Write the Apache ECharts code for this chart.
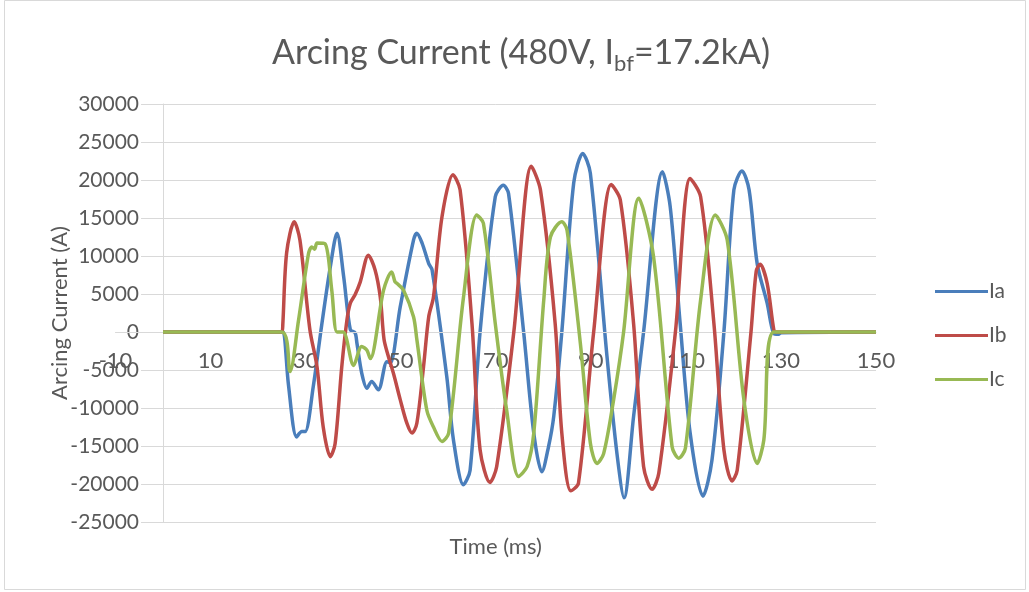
<!DOCTYPE html>
<html>
<head>
<meta charset="utf-8">
<title>Arcing Current</title>
<script src="https://cdn.jsdelivr.net/npm/echarts@6/dist/echarts.min.js"></script>
<style>
  html, body { margin: 0; padding: 0; background: #fff; }
  #chart { width: 1029px; height: 592px; }
</style>
</head>
<body>
<div id="chart"></div>
<script>
// Phase currents during the arc event, [time (ms), current (A)]
const ia = [
  [0, 0], [25, 0], [25.3, 0], [26.4, -7000], [28.1, -13800], [29.2, -13100], [29.9, -13100],
  [31.6, -7200], [33.4, 1000], [35.2, 8600], [36.6, 13000], [38.0, 7300], [39.4, 300],
  [40.4, -100], [40.8, -1500], [41.8, -5400], [42.9, -7400], [43.9, -6500], [45.3, -7600],
  [47.1, -3900], [47.8, -4100], [49.9, 3300], [52.7, 12100], [53.4, 13000], [54.5, 11700],
  [55.9, 9000], [56.6, 8200], [59.7, -5900], [61.1, -14200], [63.2, -20100], [64.6, -18200],
  [66.7, 0], [69.9, 17800], [71.6, 19300], [72.7, 18200], [75.9, -200], [78.0, -13300],
  [79.7, -18400], [81.1, -15100], [82.2, -11100], [83.9, 0], [86.4, 19600], [88.3, 23500],
  [89.9, 20900], [93.4, -3200], [95.5, -16000], [97.0, -21800], [99.0, -11100], [101.1, 0],
  [105.1, 21100], [106.7, 16500], [108.8, 1100], [110.9, -13300], [113.6, -21600],
  [115.5, -16800], [118.0, 0], [120.1, 18700], [121.8, 21200], [123.3, 18700], [125.0, 9000],
  [127.1, 3800], [128.5, -200], [129.5, -300], [130, -100], [150, 0]
];
const ib = [
  [0, 0], [25, 0], [25.2, 1000], [26.0, 10400], [27.6, 14500], [28.8, 12100], [30.9, 300],
  [32.4, -4600], [33.7, -12500], [35.2, -16400], [36.2, -14700], [37.6, -4600], [38.7, 1600],
  [39.4, 3800], [40.4, 4900], [41.5, 6600], [43.2, 10100], [44.6, 8200], [45.7, 4600],
  [46.5, -1000], [47.4, -3200], [48.5, -5500], [49.9, -8900], [51.3, -12000], [52.4, -13300],
  [53.4, -12000], [54.8, -4600], [55.9, 2000], [56.9, 4600], [58.7, 15200], [61.0, 20700],
  [62.5, 18700], [65.0, 1100], [66.7, -15500], [68.8, -19800], [70.2, -17700], [73.8, 0],
  [77.5, 21800], [79.4, 18700], [82.5, 1100], [83.9, -13300], [85.8, -20900], [87.4, -19900],
  [90.6, 0], [94.3, 19400], [96.2, 17400], [99.0, 1100], [101.1, -17700], [102.9, -20700],
  [104.3, -18600], [107.8, 0], [110.9, 20200], [113.1, 17800], [115.9, 1100], [118.0, -15500],
  [119.7, -19600], [120.8, -18200], [123.7, 0], [124.8, 8000], [125.6, 8900], [127.1, 6400],
  [128.5, 300], [129, 0], [150, 0]
];
const ic = [
  [0, 0], [25, 0], [26.7, -5200], [28.5, 1500], [30.6, 10300], [31.3, 11200], [31.9, 10900],
  [32.4, 11700], [34.1, 11600], [35.5, 5500], [36.6, 0], [37.9, 0], [40.1, -4400],
  [41.8, -1900], [42.9, -2400], [43.6, -3500], [46.4, 5500], [48.1, 7900], [48.8, 6600],
  [49.2, 6400], [50.6, 5500], [52.7, 2000], [53.4, -1000], [55.5, -10300], [56.9, -12500],
  [58.7, -14400], [60.1, -13300], [63.2, 4500], [66.0, 15400], [67.4, 14300], [69.9, 1100],
  [72.3, -10300], [74.8, -19000], [76.6, -17700], [78.0, -13300], [80.1, 4200], [81.5, 12500],
  [83.9, 14500], [85.0, 13400], [87.8, -1500], [89.9, -14600], [91.3, -17300], [92.7, -16000],
  [94.8, -8900], [96.9, 0], [100.1, 17600], [103.2, 9900], [107.1, -15100], [108.5, -16600],
  [109.9, -15300], [113.1, 4200], [116.2, 15400], [118.7, 12100], [122.2, -8900],
  [125.0, -17300], [126.4, -14200], [128.5, 0], [150, 0]
];

const seriesNames = ['Ia', 'Ib', 'Ic'];
const seriesColors = ['#4a7ebb', '#be4b48', '#98b954'];

const X_MIN = -10, X_MAX = 150, X_STEP = 20;
const Y_MIN = -25000, Y_MAX = 30000, Y_STEP = 5000;

const FONT = 'Lato';
const TEXT = '#595959';
const GRID = '#d9d9d9';

const W = 1029, H = 592;
const GRID_LEFT = 115.5, GRID_RIGHT = 153, GRID_TOP = 104, GRID_BOTTOM = 70;
const plotWidth = W - GRID_LEFT - GRID_RIGHT;
const plotHeight = H - GRID_TOP - GRID_BOTTOM;
// the axes cross at t = 0 and I = 0
const yAxisShift = -plotWidth * (0 - X_MIN) / (X_MAX - X_MIN);
const xAxisShift = -plotHeight * (0 - Y_MIN) / (Y_MAX - Y_MIN);

const chart = echarts.init(document.getElementById('chart'), null, { renderer: 'canvas' });

chart.setOption({
  animation: false,
  backgroundColor: '#fff',
  textStyle: { fontFamily: FONT, color: TEXT },
  title: {
    text: 'Arcing Current (480V, I{sub|bf}=17.2kA)',
    left: 272,
    top: 31,
    padding: 0,
    textStyle: {
      fontFamily: FONT, fontSize: 34, fontWeight: 'normal', color: TEXT, lineHeight: 44,
      rich: {
        sub: { fontFamily: FONT, fontSize: 22, color: TEXT, verticalAlign: 'bottom', lineHeight: 14 }
      }
    }
  },
  graphic: [{
    type: 'rect', silent: true, z: -1,
    shape: { x: 4.5, y: 0.5, width: 1021, height: 589 },
    style: { fill: 'none', stroke: GRID, lineWidth: 1 }
  }],
  legend: {
    orient: 'vertical',
    left: 935,
    top: 281,
    padding: 0,
    data: seriesNames,
    icon: 'rect',
    itemWidth: 53,
    itemHeight: 3,
    itemGap: 23,
    textStyle: { fontFamily: FONT, fontSize: 21, color: TEXT, lineHeight: 20, padding: [0, 0, 0, -4] }
  },
  grid: {
    left: GRID_LEFT, right: GRID_RIGHT, top: GRID_TOP, bottom: GRID_BOTTOM,
    containLabel: false, outerBoundsMode: 'none'
  },
  xAxis: {
    type: 'value',
    min: X_MIN,
    max: X_MAX,
    interval: X_STEP,
    position: 'bottom',
    offset: xAxisShift,
    z: 3,
    name: 'Time (ms)',
    nameLocation: 'middle',
    nameGap: 204,
    nameMoveOverlap: false,
    nameTextStyle: { fontFamily: FONT, fontSize: 22, color: TEXT },
    axisLine: { onZero: false, lineStyle: { color: GRID, width: 1 } },
    axisTick: { show: false },
    splitLine: { show: false },
    axisLabel: { fontFamily: FONT, fontSize: 22, color: TEXT, margin: 18, formatter: v => String(v) }
  },
  yAxis: {
    type: 'value',
    min: Y_MIN,
    max: Y_MAX,
    interval: Y_STEP,
    position: 'left',
    offset: yAxisShift,
    name: 'Arcing Current (A)',
    nameLocation: 'middle',
    nameRotate: 90,
    nameGap: 92,
    nameMoveOverlap: false,
    nameTextStyle: { fontFamily: FONT, fontSize: 22, color: TEXT },
    axisLine: { show: true, onZero: false, lineStyle: { color: GRID, width: 1 } },
    axisTick: { show: false },
    splitLine: { show: true, lineStyle: { color: GRID, width: 1 } },
    axisLabel: {
      fontFamily: FONT, fontSize: 21, color: TEXT, margin: 22,
      backgroundColor: '#fff', padding: [0, 2, 0, 2], formatter: v => String(v)
    }
  },
  series: [ia, ib, ic].map((d, i) => ({
    name: seriesNames[i],
    type: 'line',
    data: d,
    showSymbol: false,
    symbol: 'none',
    smooth: 0.3,
    color: seriesColors[i],
    lineStyle: { width: 3.5, color: seriesColors[i] },
    z: 2 + i
  }))
});
</script>
</body>
</html>
